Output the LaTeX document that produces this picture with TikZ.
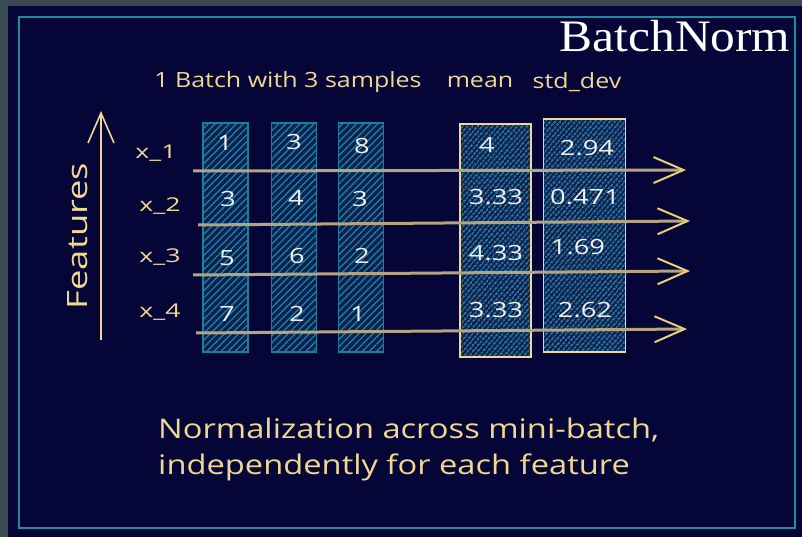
\documentclass[tikz,border=0pt]{standalone}
\usepackage{fontspec}
\setmainfont{Open Sans}
\newfontfamily\titlefont{Liberation Serif}
\usetikzlibrary{patterns.meta,arrows.meta}
\definecolor{outergrey}{HTML}{3A4A52}
\definecolor{navy}{HTML}{060538}
\definecolor{frameteal}{HTML}{1B8EA0}
\definecolor{colborder}{HTML}{1A7F98}
\definecolor{colfill}{HTML}{0A2250}
\definecolor{hatch}{HTML}{1F86A8}
\definecolor{hatchb}{HTML}{2AA0C8}
\definecolor{ytext}{HTML}{F0D890}
\definecolor{shaft}{HTML}{B4A482}
\definecolor{headcol}{HTML}{E8D070}
\definecolor{numwhite}{HTML}{F0F0F4}
\tikzset{
  samplecol/.style={draw=colborder, line width=1.5pt, preaction={fill=colfill},
    pattern={Lines[angle=45,distance=5pt,line width=1.2pt]}, pattern color=hatch,
    minimum width=45pt, minimum height=229pt, inner sep=0pt},
  statcol/.style={draw=ytext, line width=1.5pt, preaction={fill=colfill},
    pattern={Lines[angle=50,distance=4pt,line width=1.2pt]}, pattern color=hatchb,
    inner sep=0pt},
  num/.style={text=numwhite, font=\fontsize{21}{25}\selectfont, inner sep=0pt, xscale=1.3},
  ylabel/.style={text=ytext, font=\fontsize{21}{25}\selectfont, inner sep=0pt, xscale=1.19},
  rowlabel/.style={text=ytext, font=\fontsize{19}{23}\selectfont, inner sep=0pt, xscale=1.4},
  captext/.style={text=ytext, font=\fontsize{27}{32}\selectfont, anchor=west, inner sep=0pt, xscale=1.21},
  rowarrow/.style={draw=shaft, line width=3pt,
    -{Straight Barb[length=30pt,width=26pt,line width=2pt,color=headcol]}},
}
\begin{document}
\begin{tikzpicture}[x=1pt,y=-1pt]
\useasboundingbox (0,0) rectangle (802,537);
\fill[outergrey] (0,0) rectangle (802,537);
\fill[navy] (8,6) rectangle (802,537);
\draw[frameteal, line width=2pt] (19,17) rectangle (795,528);

\node[text=white, font=\titlefont\fontsize{45}{50}\selectfont, anchor=base, xscale=1.1, inner sep=0pt] (title) at (675,52) {BatchNorm};

\node[ylabel] (batch) at (288,82) {1 Batch with 3 samples};
\node[ylabel] (meanl) at (480,82) {mean};
\node[ylabel] (stdl) at (577,82) {std\_dev};

% sample columns
\node[samplecol] (c1) at (225.5,237.5) {};
\node[samplecol] (c2) at (294,237.5) {};
\node[samplecol] (c3) at (361,237.5) {};
% stat columns
\node[statcol, minimum width=71pt, minimum height=233pt] (mean) at (495.5,240.5) {};
\node[statcol, minimum width=82pt, minimum height=233pt] (std) at (584.5,235.5) {};

% numbers
\node[num] at (225,143) {1};
\node[num] at (294,142) {3};
\node[num] at (362,146) {8};
\node[num] at (228,199) {3};
\node[num] at (296,198) {4};
\node[num] at (360,199) {3};
\node[num] at (227,258) {5};
\node[num] at (297,256) {6};
\node[num] at (362,256) {2};
\node[num] at (227,314) {7};
\node[num] at (297,314) {2};
\node[num] at (358,314) {1};

\node[num] at (487,145) {4};
\node[num] at (496,197) {3.33};
\node[num] at (496,253) {4.33};
\node[num] at (496,310) {3.33};
\node[num] at (587,148) {2.94};
\node[num] at (585,197) {0.471};
\node[num] at (578,247) {1.69};
\node[num] at (585,310) {2.62};

% row labels
\node[rowlabel] (x1) at (156,153) {x\_1};
\node[rowlabel] (x2) at (160,206) {x\_2};
\node[rowlabel] (x3) at (160,257) {x\_3};
\node[rowlabel] (x4) at (160,312) {x\_4};

% row arrows
\coordinate (s1) at (193,171); \coordinate (e1) at (686,170);
\coordinate (s2) at (198,225); \coordinate (e2) at (690,221);
\coordinate (s3) at (193,275); \coordinate (e3) at (690,271);
\coordinate (s4) at (196,333); \coordinate (e4) at (687,329);
\draw[rowarrow] (s1) -- (e1);
\draw[rowarrow] (s2) -- (e2);
\draw[rowarrow] (s3) -- (e3);
\draw[rowarrow] (s4) -- (e4);

% features axis
\coordinate (fa) at (101,340);
\coordinate (fb) at (101,111);
\draw[ytext, line width=1.6pt, -{Straight Barb[length=30pt,width=26pt,line width=1.6pt]}] (fa) -- (fb);
\node[text=ytext, inner sep=0pt, rotate=90, xscale=1.3, font=\fontsize{28}{32}\selectfont] (feat) at (78,236) {Features};

% caption
\node[captext] (cap1) at (158,430) {Normalization across mini-batch,};
\node[captext] (cap2) at (158,467) {independently for each feature};
\end{tikzpicture}
\end{document}
